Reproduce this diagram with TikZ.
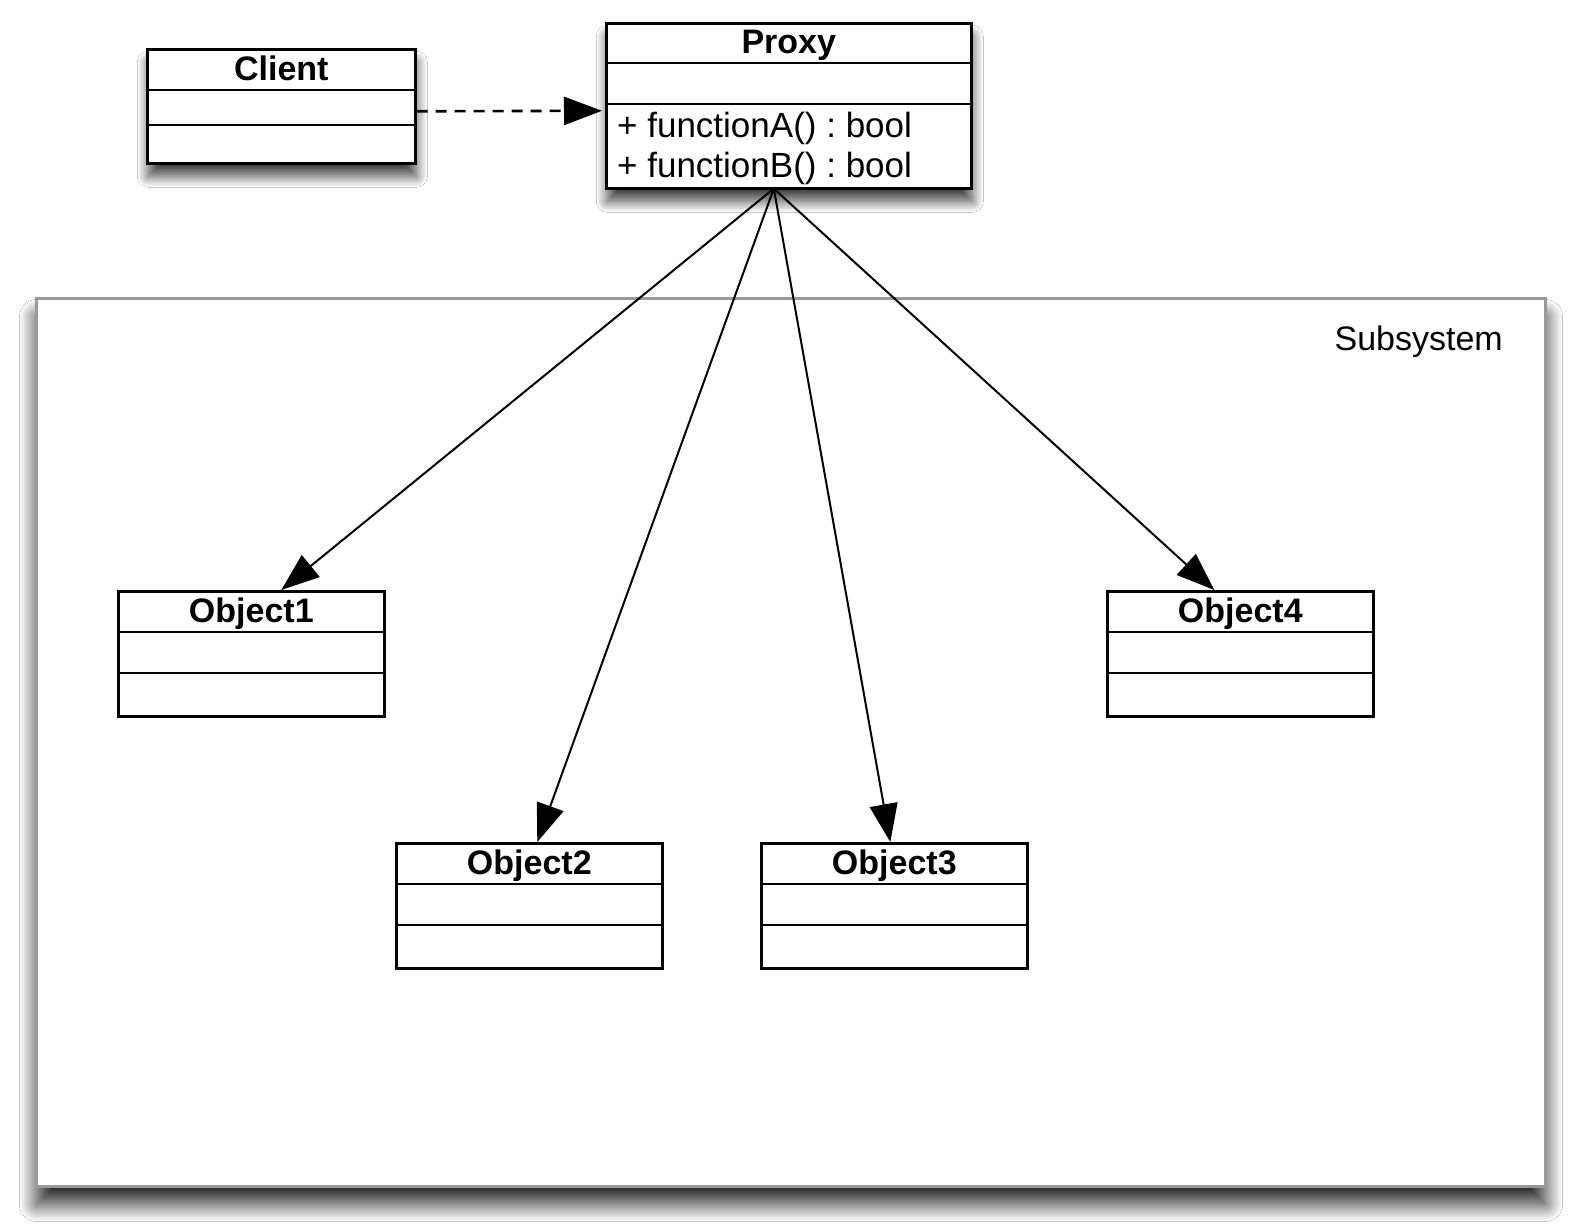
\documentclass[tikz,border=0pt]{standalone}
\usepackage{fontspec}
\setmainfont{Liberation Sans}
\frenchspacing
\usetikzlibrary{arrows.meta,shadows.blur}
\begin{document}
\begin{tikzpicture}[x=1pt,y=-1pt,
  classbox/.style={draw=black, line width=2.6pt, fill=white, rectangle, inner sep=0pt, anchor=north west},
  divider/.style={draw=black, line width=2.6pt},
  hdr/.style={font=\bfseries\fontsize{34}{40}\selectfont, anchor=base, inner sep=0pt},
  member/.style={font=\fontsize{35}{40}\selectfont, anchor=base west, inner sep=0pt},
  boxshadow/.style={blur shadow={shadow xshift=1pt, shadow yshift=-13pt, shadow blur radius=11pt, shadow blur steps=30, shadow opacity=75}},
  assoc/.style={draw=black, line width=2pt, -{Triangle[length=38pt,width=28pt]}},
  dep/.style={draw=black, line width=2.6pt, dash pattern=on 11pt off 8pt, -{Triangle[length=38pt,width=28pt]}}
]
\useasboundingbox[fill=white] (0,0) rectangle (1575,1229);

% Subsystem frame
\node[draw=black!40, line width=3pt, fill=white, rectangle, inner sep=0pt, anchor=north west,
      minimum width=1509pt, minimum height=888pt,
      blur shadow={shadow xshift=0pt, shadow yshift=-18pt, shadow blur radius=17pt, shadow blur steps=30, shadow opacity=85}]
      (sub) at (35,297) {};
\node[font=\fontsize{34}{40}\selectfont, anchor=base east, inner sep=0pt] (subl) at ([xshift=-44pt,yshift=-53pt]sub.north east) {Subsystem};

% Client
\node[classbox, boxshadow, minimum width=268pt, minimum height=114pt] (client) at (146,48) {};
\draw[divider] ([yshift=-42pt]client.north west) -- ([yshift=-42pt]client.north east);
\draw[divider] ([yshift=-77pt]client.north west) -- ([yshift=-77pt]client.north east);
\node[hdr] (clientl) at ([yshift=-32pt]client.north) {Client};

% Proxy
\node[classbox, boxshadow, minimum width=365pt, minimum height=165pt] (proxy) at (605,22) {};
\draw[divider] ([yshift=-41pt]proxy.north west) -- ([yshift=-41pt]proxy.north east);
\draw[divider] ([yshift=-82pt]proxy.north west) -- ([yshift=-82pt]proxy.north east);
\node[hdr] (proxyl) at ([yshift=-31pt]proxy.north) {Proxy};
\node[member] (fa) at ([xshift=12pt,yshift=-115pt]proxy.north west) {+ functionA() : bool};
\node[member] (fb) at ([xshift=12pt,yshift=-155pt]proxy.north west) {+ functionB() : bool};

% Objects
\node[classbox, minimum width=266pt, minimum height=125pt] (o1) at (117,590) {};
\node[classbox, minimum width=266pt, minimum height=125pt] (o4) at (1106,590) {};
\node[classbox, minimum width=266pt, minimum height=125pt] (o2) at (395,842) {};
\node[classbox, minimum width=266pt, minimum height=125pt] (o3) at (760,842) {};
\foreach \o/\t in {o1/Object1,o2/Object2,o3/Object3,o4/Object4}{
  \draw[divider] ([yshift=-42pt]\o.north west) -- ([yshift=-42pt]\o.north east);
  \draw[divider] ([yshift=-83pt]\o.north west) -- ([yshift=-83pt]\o.north east);
  \node[hdr] (\o l) at ([yshift=-32pt]\o.north) {\t};
}

% connectors
\coordinate (ps) at ([xshift=-15pt,yshift=1pt]proxy.south);
\coordinate (t1) at ([xshift=30pt]o1.north);
\coordinate (t2) at ([xshift=8pt]o2.north);
\coordinate (t3) at ([xshift=-4pt]o3.north);
\coordinate (t4) at ([xshift=-26pt]o4.north);
\draw[assoc] (ps) -- (t1);
\draw[assoc] (ps) -- (t2);
\draw[assoc] (ps) -- (t3);
\draw[assoc] (ps) -- (t4);
\draw[dep] ([yshift=-5pt]client.east) -- ([yshift=-5pt,xshift=-3pt]proxy.west);
\end{tikzpicture}
\end{document}
